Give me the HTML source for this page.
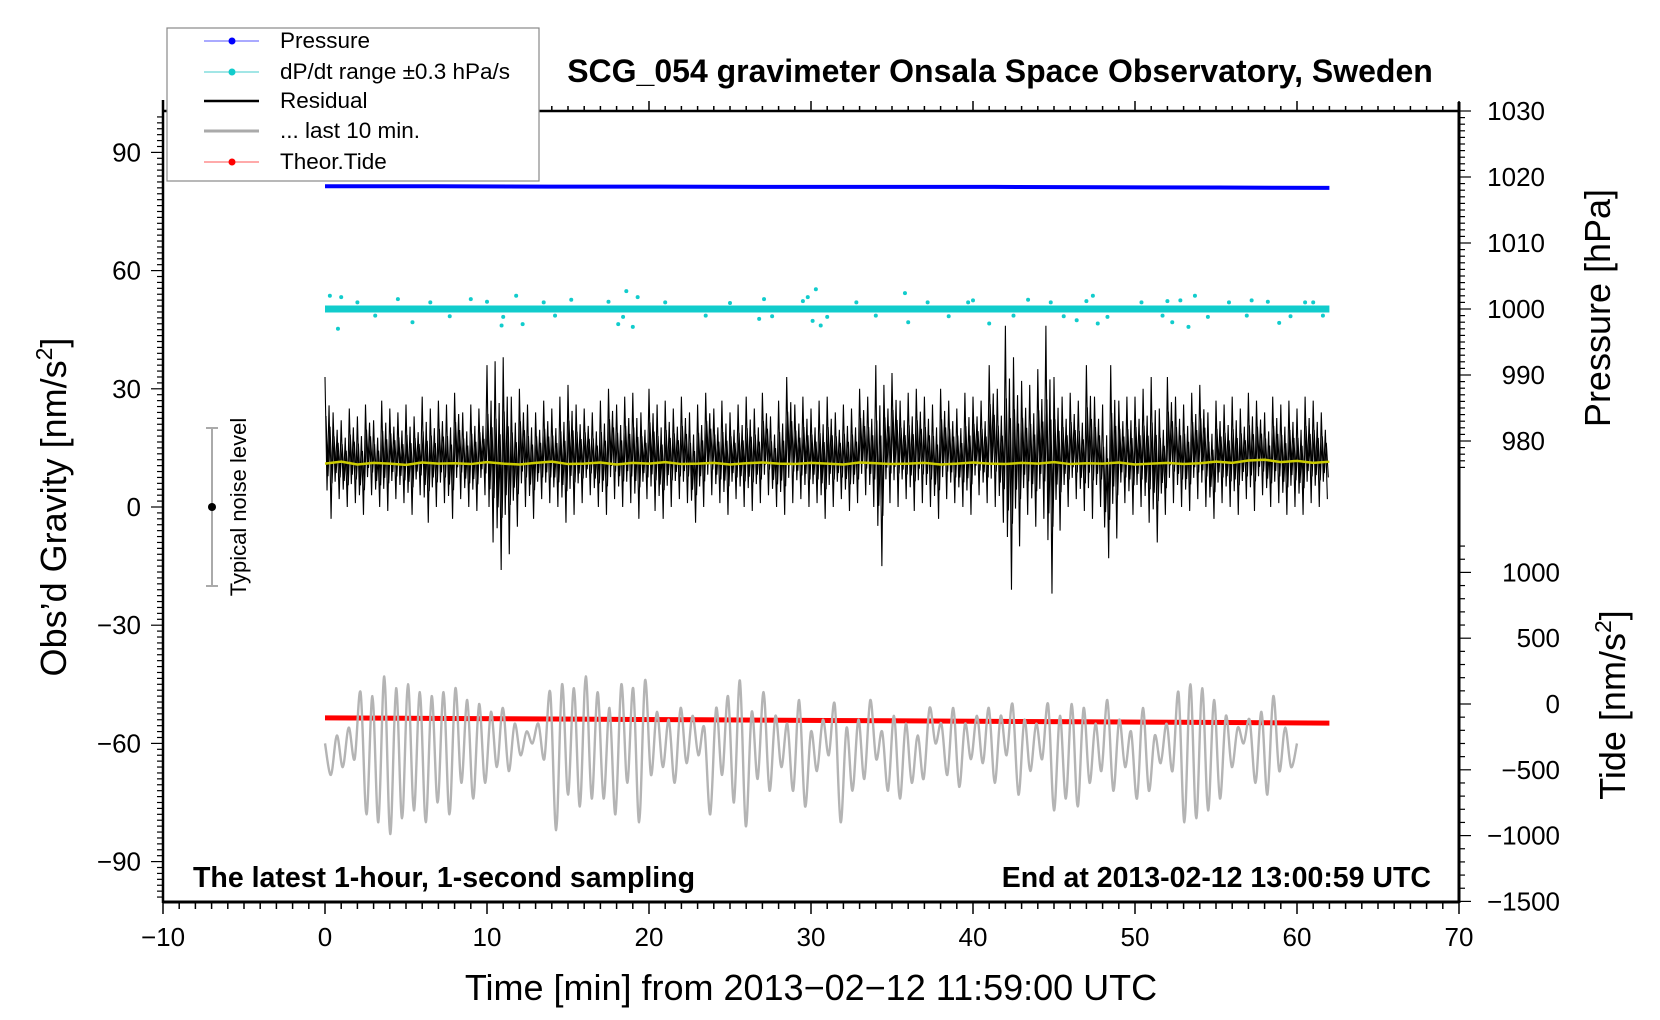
<!DOCTYPE html>
<html><head><meta charset="utf-8"><style>
html,body{margin:0;padding:0;background:#fff}
svg{display:block;font-family:"Liberation Sans",sans-serif}
</style></head><body>
<svg id="chart" width="1660" height="1020" viewBox="0 0 1660 1020">
<g id="axes"></g>
<g id="marks"></g>
<text x="1000" y="82" text-anchor="middle" font-size="32" font-weight="bold">SCG_054 gravimeter Onsala Space Observatory, Sweden</text>
<text x="193" y="887" font-size="28.5" font-weight="bold">The latest 1-hour, 1-second sampling</text>
<text x="1431" y="887" text-anchor="end" font-size="28.5" font-weight="bold">End at 2013-02-12 13:00:59 UTC</text>
<text x="811" y="1000" text-anchor="middle" font-size="36">Time [min] from 2013−02−12 11:59:00 UTC</text>
<text transform="translate(66,507) rotate(-90)" text-anchor="middle" font-size="36">Obs’d Gravity [nm/s<tspan dy="-14" font-size="23">2</tspan><tspan dy="14">]</tspan></text>
<text transform="translate(1610,308) rotate(-90)" text-anchor="middle" font-size="36">Pressure [hPa]</text>
<text transform="translate(1625,705) rotate(-90)" text-anchor="middle" font-size="36">Tide [nm/s<tspan dy="-14" font-size="23">2</tspan><tspan dy="14">]</tspan></text>
<g>
<line x1="212" y1="428" x2="212" y2="586" stroke="#aaa" stroke-width="2"/>
<line x1="206" y1="428" x2="218" y2="428" stroke="#aaa" stroke-width="2"/>
<line x1="206" y1="586" x2="218" y2="586" stroke="#aaa" stroke-width="2"/>
<circle cx="212" cy="507" r="4" fill="#000"/>
<text transform="translate(246,507) rotate(-90)" text-anchor="middle" font-size="22">Typical noise level</text>
</g>
<g>
<rect x="167" y="28" width="372" height="153" fill="#fff" stroke="#888" stroke-width="1.2"/>
<g><line x1="204" y1="41" x2="259" y2="41" stroke="#55f" stroke-width="1"/><circle cx="232" cy="41" r="3.5" fill="#00f"/><text x="280" y="48" font-size="22.5">Pressure</text></g>
<g><line x1="204" y1="72" x2="259" y2="72" stroke="#4cc" stroke-width="1"/><circle cx="232" cy="72" r="3.5" fill="#1cc"/><text x="280" y="79" font-size="22.5">dP/dt range ±0.3 hPa/s</text></g>
<g><line x1="204" y1="101" x2="259" y2="101" stroke="#000" stroke-width="2.5"/><text x="280" y="108" font-size="22.5">Residual</text></g>
<g><line x1="204" y1="131" x2="259" y2="131" stroke="#aaa" stroke-width="3"/><text x="280" y="138" font-size="22.5">... last 10 min.</text></g>
<g><line x1="204" y1="162" x2="259" y2="162" stroke="#f55" stroke-width="1"/><circle cx="232" cy="162" r="3.5" fill="#f00"/><text x="280" y="169" font-size="22.5">Theor.Tide</text></g>
</g>
</svg>
<script>
// ---- data ----
const xTicks = [-10,0,10,20,30,40,50,60,70];
const gTicks = [90,60,30,0,-30,-60,-90];
const pTicks = [980,990,1000,1010,1020,1030];
const tideTicks = [1000,500,0,-500,-1000,-1500];
const pressure = [1018.6,1018.6,1018.55,1018.55,1018.5,1018.5,1018.5,1018.45,1018.4,1018.35];
const tide = [-105,-110,-115,-120,-125,-130,-135,-140,-145];
const dpdtCenter = 1000;
const dpdtOutliers = [[0.3,1002],[0.8,997],[1,1001.8],[4.5,1001.5],[5.4,998],[9,1001.5],[10.9,997.5],[11.8,1002],[12.2,997.7],[15.2,1001.4],[18.1,997.7],[18.6,1002.7],[19,997.3],[19.3,1001.8],[26.8,998.5],[27.1,1001.5],[29.8,1001.8],[30.3,1003],[30.1,998.2],[30.6,997.5],[35.8,1002.4],[36,998],[40,1001.3],[41,997.8],[43.4,1001.4],[46.4,998.3],[47.4,1002],[47.7,997.8],[52,1001.2],[52.3,998],[53.3,997.3],[53.7,1002],[57.2,1001.3],[58.9,997.9],[61,1001],
[2,1001],[3.1,999],[6.5,1001],[7.7,998.9],[10,1001.1],[11,998.8],[13.5,1001],[14.2,999],[17.5,1001.1],[18.4,998.8],[21,1001],[23.5,999],[25,1000.9],[27.6,998.9],[29.5,1001.2],[31,998.8],[32.8,1001],[34,999],[37.2,1001],[38.5,998.9],[39.7,1001],[42.5,999],[44.8,1001],[45.6,998.9],[47,1001.2],[48.3,998.8],[50.4,1001],[51.7,999],[52.8,1001.3],[54.5,998.8],[55.8,1001],[56.9,999],[58.2,1001.1],[59.6,998.9],[60.5,1001],[61.6,999]];
const residualHi = [33,24,22,25,23,26,22,27,25,24, 26,23,28,25,27,26,29,24,26,25, 36,37,38,28,30,26,24,27,25,28, 31,26,25,24,27,30,26,28,29,24, 30,26,27,25,28,24,26,29,25,27, 24,26,28,25,29,23,27,33,26,28, 25,27,28,24,26,25,30,28,36,31, 34,27,29,30,28,26,30,27,25,29, 28,27,36,30,46,38,32,31,35,46, 33,28,29,27,36,28,26,36,27,28, 28,30,33,25,33,28,26,29,31,24, 27,26,28,25,29,27,24,28,26,27, 25,28,27,24];
const residualLo = [-3,2,0,1,-2,3,0,-1,2,1, -2,3,-4,0,1,-3,2,0,-1,3, -9,-16,-12,-5,0,-3,2,1,0,-4, -2,1,3,0,-2,2,0,1,-3,2, -1,-3,0,2,1,-4,0,3,1,-2, 2,0,-1,1,3,0,-2,1,2,0, 1,-3,0,2,-1,1,3,0,-15,1, 0,2,-1,1,0,-3,2,1,0,-2, 3,1,0,-4,-21,-10,-2,-5,-3,-22, -6,0,2,-1,-3,0,-13,-8,1,-2, 0,-4,-9,-2,1,0,-1,2,0,-3, 1,0,-2,2,-1,3,0,1,-2,0, -2,1,0,2];
const runningMean = [11,11.5,10.8,11.2,11,10.7,11.3,11,11.1,10.9,11.4,11,10.8,11.2,11.5,10.9,11,11.3,10.8,11.2,11,11.4,10.9,11,11.2,10.8,11.1,11.3,11,10.9,11.2,11,10.8,11.3,11.1,10.9,11,11.2,10.8,11,11.3,11,10.9,11.2,11,11.4,10.9,11.1,11,11.3,10.8,11,11.2,10.9,11.1,11.5,11.2,11.8,12,11.4,11.7,11.2,11.5];
const last10 = [-60,-68,-58,-66,-56,-64,-47,-78,-48,-80,-43,-83,-46,-79,-45,-77,-47,-80,-48,-75,-47,-78,-46,-70,-49,-74,-50,-70,-52,-66,-51,-67,-55,-63,-57,-60,-55,-64,-47,-82,-45,-73,-46,-76,-43,-74,-47,-74,-51,-78,-45,-70,-46,-80,-44,-68,-52,-66,-54,-70,-51,-65,-53,-63,-56,-78,-51,-68,-48,-75,-44,-81,-52,-69,-47,-72,-53,-66,-55,-72,-49,-76,-57,-67,-54,-63,-50,-80,-56,-72,-54,-69,-49,-64,-57,-72,-53,-74,-55,-70,-58,-69,-51,-60,-55,-68,-51,-71,-55,-64,-53,-65,-51,-70,-53,-63,-50,-73,-54,-67,-55,-64,-50,-77,-53,-74,-50,-76,-51,-70,-55,-67,-49,-72,-54,-66,-57,-74,-51,-72,-58,-65,-55,-67,-47,-80,-45,-79,-46,-77,-49,-74,-53,-66,-56,-60,-54,-70,-52,-73,-48,-67,-56,-66,-60];
const seriesEnd = 62;
const last10End = 60;

// ---- scales ----
const X = t => 325 + t*16.2;
const G = g => 507 - g*3.94;
const P = p => 111 + (1030-p)*6.6;
const T = v => 704 - v*0.1316;
const NS = 'http://www.w3.org/2000/svg';
const axes = document.getElementById('axes');
const marks = document.getElementById('marks');
function mk(tag, attrs, parent){const e=document.createElementNS(NS,tag);for(const k in attrs)e.setAttribute(k,attrs[k]);parent.appendChild(e);return e;}
function ln(x1,y1,x2,y2,w,parent){return mk('line',{x1:x1,y1:y1,x2:x2,y2:y2,stroke:'#000','stroke-width':w},parent);}
const fmt = v => String(v).replace('-','−');

let e;
e = ln(163,111,1459,111,2.5,axes);  
e = ln(163,902,1459,902,3,axes);  
e = ln(163,100,163,903,2.5,axes);  
e = ln(1459,102,1459,903,3,axes);  
for(let t=-10;t<=70;t++){const major=t%10===0;ln(X(t),902,X(t),902+(major?12:7),1.5,axes);ln(X(t),111,X(t),111-(major?10:5),1.5,axes);}
xTicks.forEach(t=>{const tx=mk('text',{x:X(t),y:946,'text-anchor':'middle','font-size':26},axes);tx.textContent=fmt(t);

});
for(let k=-66;k<=66;k++){const g=k*1.5;const y=G(g);if(y<100||y>902)continue;const major=(Math.abs(g)%30===0);ln(163,y,163-(major?12:6),y,1.2,axes);}
gTicks.forEach(g=>{const tx=mk('text',{x:141,y:G(g)+9,'text-anchor':'end','font-size':26},axes);tx.textContent=fmt(g);

});
for(let p=976;p<=1030;p++){const major=p%10===0;ln(1459,P(p),1459+(major?12:6),P(p),1.2,axes);}
pTicks.forEach(p=>{const tx=mk('text',{x:1545,y:P(p)+9,'text-anchor':'end','font-size':26},axes);tx.textContent=fmt(p);

});
for(let v=-1500;v<=1200;v+=100){const major=v%500===0;ln(1459,T(v),1459+(major?12:6),T(v),1.2,axes);}
tideTicks.forEach(v=>{const tx=mk('text',{x:1560,y:T(v)+9,'text-anchor':'end','font-size':26},axes);tx.textContent=fmt(v);

});

// pressure
let pts = pressure.map((p,i)=>X(i*seriesEnd/(pressure.length-1))+','+P(p)).join(' ');
e = mk('polyline',{points:pts,fill:'none',stroke:'#00f','stroke-width':4},marks);



// dP/dt
e = mk('line',{x1:X(0),y1:P(dpdtCenter),x2:X(seriesEnd),y2:P(dpdtCenter),stroke:'#1cc','stroke-width':7},marks);


dpdtOutliers.forEach(o=>{const c=mk('circle',{cx:X(o[0]),cy:P(o[1]),r:2,fill:'#1cc'},marks);

});

// residual
const bw = seriesEnd/residualHi.length;
let rp=[];
residualHi.forEach((hi,i)=>{const lo=residualLo[i];const mid=(hi+lo)/2;const t0=i*bw;
rp.push(X(t0)+','+G(hi));rp.push(X(t0+bw*0.25)+','+G(mid-(mid-lo)*0.6));rp.push(X(t0+bw*0.5)+','+G(mid+(hi-mid)*0.6));rp.push(X(t0+bw*0.75)+','+G(lo));});
e = mk('polyline',{points:rp.join(' '),fill:'none',stroke:'#000','stroke-width':1.1},marks);


let rp2=[];
residualHi.forEach((hi,i)=>{const lo=residualLo[i];const mid=(hi+lo)/2;const t0=i*bw;
rp2.push(X(t0+bw*0.12)+','+G(mid+(hi-mid)*0.45));rp2.push(X(t0+bw*0.37)+','+G(mid-(mid-lo)*0.4));rp2.push(X(t0+bw*0.62)+','+G(mid+(hi-mid)*0.3));rp2.push(X(t0+bw*0.87)+','+G(mid-(mid-lo)*0.5));});
e = mk('polyline',{points:rp2.join(' '),fill:'none',stroke:'#000','stroke-width':1.1},marks);



// running mean
pts = runningMean.map((g,i)=>X(i*seriesEnd/(runningMean.length-1))+','+G(g)).join(' ');
e = mk('polyline',{points:pts,fill:'none',stroke:'#cc0','stroke-width':2.5},marks);



// tide
pts = tide.map((v,i)=>X(i*seriesEnd/(tide.length-1))+','+T(v)).join(' ');
e = mk('polyline',{points:pts,fill:'none',stroke:'#f00','stroke-width':5},marks);



// last 10 min (smoothed)
const lp = last10.map((g,i)=>[X(i*last10End/(last10.length-1)),G(g)]);
let d = 'M'+lp[0][0]+','+lp[0][1];
for(let i=0;i<lp.length-1;i++){const p0=lp[Math.max(0,i-1)],p1=lp[i],p2=lp[i+1],p3=lp[Math.min(lp.length-1,i+2)];
const c1x=p1[0]+(p2[0]-p0[0])/6,c1y=p1[1]+(p2[1]-p0[1])/6,c2x=p2[0]-(p3[0]-p1[0])/6,c2y=p2[1]-(p3[1]-p1[1])/6;
d+=' C'+c1x+','+c1y+' '+c2x+','+c2y+' '+p2[0]+','+p2[1];}
e = mk('path',{d:d,fill:'none',stroke:'#b4b4b4','stroke-width':2.4,'stroke-linejoin':'round'},marks);


</script>
</body></html>
